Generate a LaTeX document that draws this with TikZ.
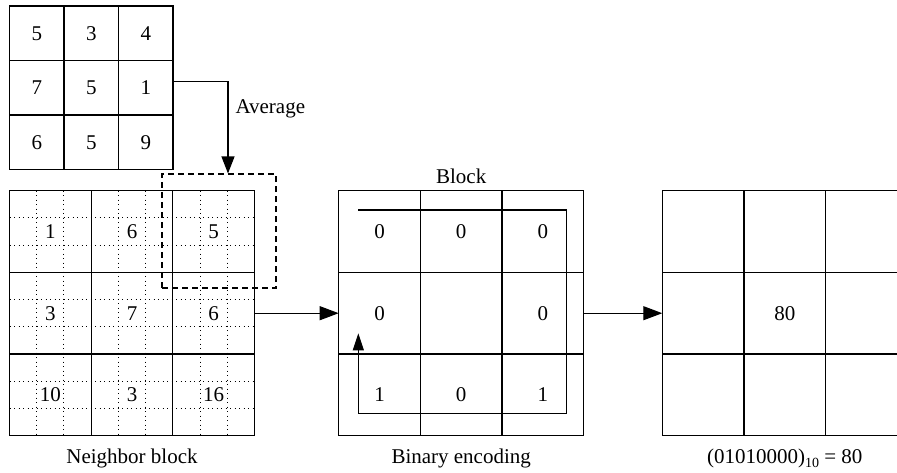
\documentclass[tikz,border=0pt]{standalone}
\usepackage{fontspec}
\setmainfont{Liberation Serif}
\usetikzlibrary{arrows.meta,positioning,calc}

\begin{document}
\begin{tikzpicture}[x=1pt, y=-1pt, line width=1.1pt, >={Triangle[length=19pt,width=14pt]},
  font=\fontsize{21}{24}\selectfont]
\tikzset{
  kcell/.style={minimum size=54.5pt, inner sep=0pt, outer sep=0pt},
  bcell/.style={minimum size=81.67pt, inner sep=0pt, outer sep=0pt},
  fine/.style={line width=0.9pt, dash pattern=on 0.9pt off 3.6pt},
  win/.style={draw, dash pattern=on 6pt off 4pt, minimum size=114pt, inner sep=0pt},
  lbl/.style={inner sep=0pt}
}
\useasboundingbox (0,0) rectangle (897,472);
\clip (0,0) rectangle (897,472);

% small 3x3 window
\foreach \v [count=\i from 0] in {5,3,4,7,5,1,6,5,9}
  \node[kcell] (k\i) at ({36.75+54.5*mod(\i,3)}, {33.25+54.5*int(\i/3)}) {\v};

% neighbor block, dotted sub-grid first
\foreach \a in {1,2,4,5,7,8} {
  \draw[fine] (9.5+27.222*\a,190.7) -- ++(0,245);
  \draw[fine] (9.5,190.7+27.222*\a) -- ++(245,0);
}
\foreach \v [count=\i from 0] in {1,6,5,3,7,6,10,3,16}
  \node[bcell] (n\i) at ({50.33+81.67*mod(\i,3)}, {231.53+81.67*int(\i/3)}) {\v};
\node[win] (w) at (219,231) {};

% binary block
\foreach \v [count=\i from 0] in {0,0,0,0,,0,1,0,1}
  \node[bcell] (b\i) at ({379.53+81.67*mod(\i,3)}, {231.53+81.67*int(\i/3)}) {\v};

% result block
\foreach \v [count=\i from 0] in {,,,,80,,,,}
  \node[bcell] (r\i) at ({703.13+81.67*mod(\i,3)}, {231.53+81.67*int(\i/3)}) {\v};

% grid lines of all four blocks
\foreach \g in {k,n,b,r} {
  \draw (\g0.north west) rectangle (\g8.south east);
  \draw (\g0.north east) -- (\g6.south east) (\g1.north east) -- (\g7.south east)
        (\g0.south west) -- (\g2.south east) (\g3.south west) -- (\g5.south east);
}

% reading order inside the block
\coordinate (c1) at ([xshift=19.6pt,yshift=-19.3pt]b0.north west);
\coordinate (c2) at ([xshift=-17pt,yshift=22.4pt]b8.south east);
\coordinate (c3) at ([xshift=19.6pt,yshift=20.7pt]b6.north west);
\draw[-{Triangle[length=17pt,width=11pt]}] (c1) -- (c1 -| c2) -- (c2) -- (c2 -| c1) -- (c3);

\draw[-{Triangle[length=17pt,width=13pt]}] ([yshift=6pt]k5.east) -| node[lbl, right=7pt, pos=0.65] {Average} ([xshift=9pt]w.north);
\draw[->] (n5.east) -- (b3.west);
\draw[->] (b5.east) -- (r3.west);

\node[lbl, below=13pt of n7] {Neighbor block};
\node[lbl, above=6pt of b1] {Block};
\node[lbl, below=13pt of b7] {Binary encoding};
\node[lbl, below=13pt of r7] {(01010000)\raisebox{-4pt}{\fontsize{14}{14}\selectfont 10} = 80};
\end{tikzpicture}
\end{document}
